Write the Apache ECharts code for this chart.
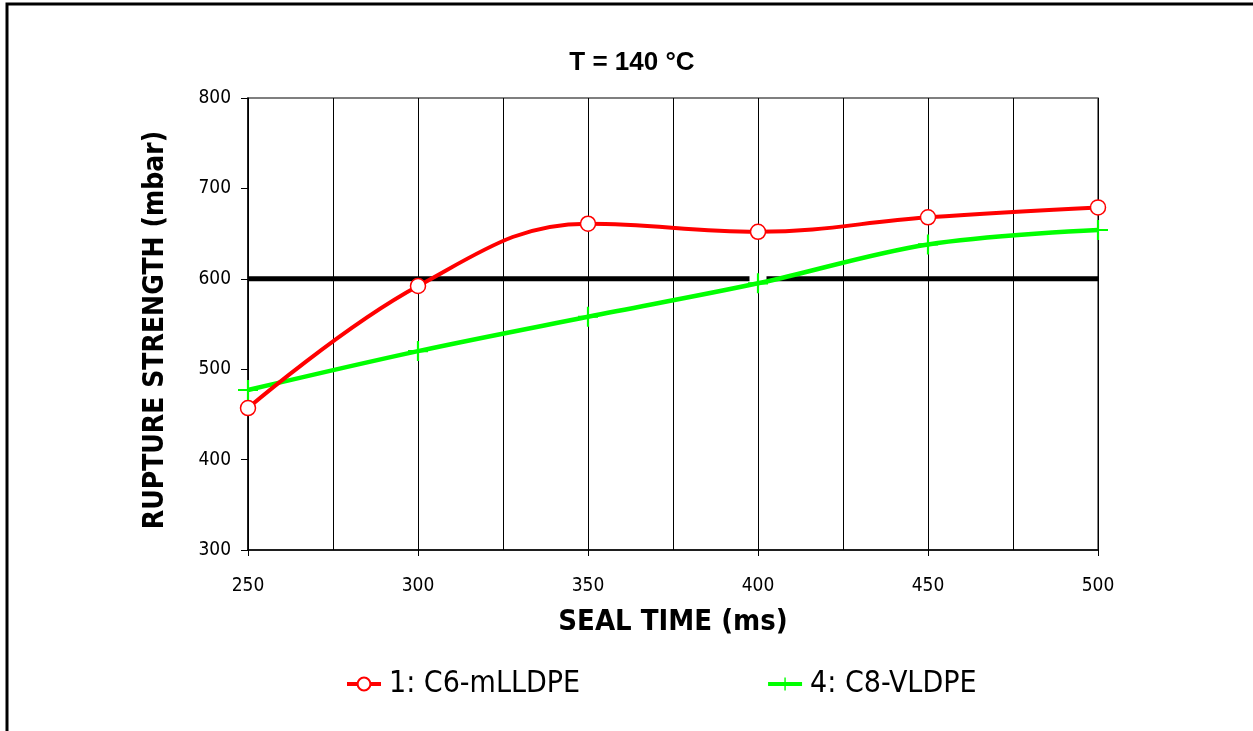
<!DOCTYPE html>
<html>
<head>
<meta charset="utf-8">
<script src="https://cdn.jsdelivr.net/npm/echarts@6/dist/echarts.min.js"></script>
<style>
  html, body { margin: 0; padding: 0; background: #fff; }
  #chart { width: 1253px; height: 731px; }
</style>
</head>
<body>
<div id="chart"></div>
<script>
// Seal time (ms) and rupture strength (mbar) at T = 140 °C
const sealTimes = [250, 300, 350, 400, 450, 500];
const c6mLLDPE = [457, 592, 661, 652, 668, 679];
const c8VLDPE = [477, 520, 558, 595, 638, 654];
// 600 mbar reference level (interrupted where it meets the 400 ms point)
const limitLevel = 600;
const limitSpans = [[250, 397.5], [402.5, 500]];
const seriesNames = ['1: C6-mLLDPE', '4: C8-VLDPE'];

const narrow = 'Liberation Sans Narrow, Arial Narrow, DejaVu Sans Condensed, sans-serif';
const arial = 'Liberation Sans, Arial, sans-serif';

const toPairs = (xs, ys) => xs.map((x, i) => [x, ys[i]]);
const limitData = [];
limitSpans.forEach((s, i) => {
  if (i > 0) limitData.push([null, null]);
  limitData.push([s[0], limitLevel], [s[1], limitLevel]);
});

// thin "+" marker
const crossPath = 'path://M8.9,0 L11.1,0 L11.1,8.9 L20,8.9 L20,11.1 L11.1,11.1 L11.1,20 L8.9,20 L8.9,11.1 L0,11.1 L0,8.9 L8.9,8.9 Z';

const chart = echarts.init(document.getElementById('chart'), null, { renderer: 'canvas' });

chart.setOption({
  animation: false,
  backgroundColor: '#fff',
  title: {
    text: 'T = 140 °C',
    left: 627,
    top: 45,
    textAlign: 'center',
    textStyle: { fontFamily: arial, fontWeight: 'bold', fontSize: 26, color: '#000' }
  },
  graphic: [{
    type: 'rect',
    shape: { x: 7, y: 4, width: 1260, height: 740 },
    style: { fill: 'none', stroke: '#000', lineWidth: 3 },
    silent: true
  }],
  grid: {
    left: 248, top: 98, width: 850, height: 452,
    show: true, borderColor: '#555', borderWidth: 1.5, backgroundColor: 'transparent'
  },
  legend: {
    data: seriesNames,
    bottom: 27,
    left: 340,
    itemGap: 186,
    itemWidth: 34,
    itemHeight: 16,
    lineStyle: { width: 4 },
    textStyle: { fontFamily: narrow, fontSize: 30, color: '#000', padding: [0, 0, 0, 3] }
  },
  xAxis: [{
    type: 'value',
    min: 250, max: 500, interval: 50,
    name: 'SEAL TIME (ms)',
    nameLocation: 'middle',
    nameGap: 58,
    nameTextStyle: { fontFamily: narrow, fontWeight: 'bold', fontSize: 29, color: '#000' },
    axisLine: { show: true, lineStyle: { color: '#000', width: 1.5 } },
    axisTick: { show: true, length: 6, lineStyle: { color: '#000' } },
    axisLabel: { fontFamily: narrow, fontSize: 19, color: '#000', margin: 27 },
    splitLine: { show: false }
  }, {
    type: 'value',
    min: 250, max: 500, interval: 25,
    position: 'bottom',
    axisLine: { show: false },
    axisTick: { show: false },
    axisLabel: { show: false },
    splitLine: { show: true, lineStyle: { color: '#000', width: 1 } }
  }],
  yAxis: {
    type: 'value',
    min: 300, max: 800, interval: 100,
    name: 'RUPTURE STRENGTH (mbar)',
    nameLocation: 'middle',
    nameGap: 78,
    nameTextStyle: { fontFamily: narrow, fontWeight: 'bold', fontSize: 28, color: '#000', padding: [0, 12, 0, 0] },
    axisLine: { show: true, lineStyle: { color: '#000', width: 1.5 } },
    axisTick: { show: true, length: 7, lineStyle: { color: '#000' } },
    axisLabel: { fontFamily: narrow, fontSize: 19, color: '#000', margin: 17 },
    splitLine: { show: false }
  },
  series: [{
    name: 'limit',
    type: 'line',
    data: limitData,
    connectNulls: false,
    showSymbol: false,
    symbol: 'none',
    lineStyle: { color: '#000', width: 5 },
    silent: true,
    z: 2
  }, {
    name: seriesNames[0],
    type: 'line',
    data: toPairs(sealTimes, c6mLLDPE),
    smooth: 0.4,
    symbol: 'circle',
    symbolSize: 15,
    showAllSymbol: true,
    itemStyle: { color: '#fff', borderColor: '#ff0000', borderWidth: 1.5 },
    lineStyle: { color: '#ff0000', width: 4 },
    z: 4
  }, {
    name: seriesNames[1],
    type: 'line',
    data: toPairs(sealTimes, c8VLDPE),
    smooth: 0.35,
    symbol: crossPath,
    symbolSize: 20,
    itemStyle: { color: '#00ff00', borderWidth: 0 },
    lineStyle: { color: '#00ff00', width: 4.5 },
    z: 3
  }]
});
</script>
</body>
</html>
